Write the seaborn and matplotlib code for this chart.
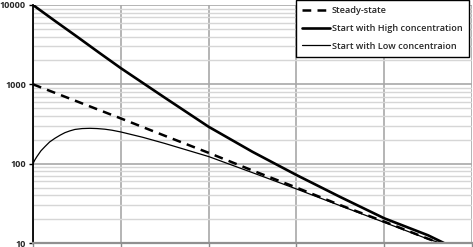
import numpy as np
import pandas as pd
import matplotlib
matplotlib.use("Agg")
import matplotlib.pyplot as plt
import seaborn as sns
from matplotlib.ticker import LogLocator, NullFormatter, FixedLocator

sns.set_style("white")
plt.rcParams["font.family"] = ["Open Sans", "DejaVu Sans"]

# values (x in grid units, y in concentration)
steady_x = [0, 0.5, 1, 1.5, 2, 2.5, 3, 3.5, 4, 4.5, 4.64]
steady_y = [1000, 610, 372, 225, 137, 82, 50, 30, 18.6, 11.3, 10]

high_x = [0, 0.25, 0.5, 0.75, 1, 1.5, 2, 2.5, 3, 3.5, 4, 4.5, 4.68]
high_y = [10000, 6300, 4000, 2520, 1600, 680, 292, 141, 72, 38, 20.5, 12.5, 10]

low_x = [0, 0.02, 0.045, 0.09, 0.136, 0.19, 0.25, 0.31, 0.364, 0.42, 0.477, 0.56, 0.648,
         0.73, 0.818, 0.9, 1, 1.25, 1.5, 2, 2.5, 3, 3.5, 4, 4.5, 4.64]
low_y = [100, 111, 123, 145, 164, 188, 209, 229, 246, 259, 270, 277, 279,
         277, 272, 264, 251, 215, 180, 123, 77, 48, 29.5, 18.2, 11.2, 10]

labels = ["Steady-state", "Start with High concentration", "Start with Low concentraion"]

df = pd.concat([
    pd.DataFrame({"x": steady_x, "y": steady_y, "series": labels[0]}),
    pd.DataFrame({"x": high_x, "y": high_y, "series": labels[1]}),
    pd.DataFrame({"x": low_x, "y": low_y, "series": labels[2]}),
])

fig = plt.figure(figsize=(4.73, 2.47), dpi=100)
ax = fig.add_axes([33 / 473, 4 / 247, 439 / 473, 238 / 247])

styles = {
    labels[0]: dict(lw=1.8, ls=(0, (3.5, 2.5))),
    labels[1]: dict(lw=1.9, ls="-"),
    labels[2]: dict(lw=0.9, ls="-"),
}
for lab in labels:
    sub = df[df["series"] == lab]
    sns.lineplot(data=sub, x="x", y="y", ax=ax, color="black", label=lab,
                 sort=False, estimator=None, **styles[lab])

ax.set_yscale("log")
ax.set_ylim(10, 10000)
ax.set_xlim(0, 5)
ax.set_xlabel("")
ax.set_ylabel("")

ax.yaxis.set_major_locator(FixedLocator([10, 100, 1000, 10000]))
ax.set_yticklabels(["10", "100", "1000", "10000"], fontsize=6.5, fontweight="bold")
ax.yaxis.set_minor_locator(LogLocator(base=10, subs=np.arange(2, 10)))
ax.yaxis.set_minor_formatter(NullFormatter())
ax.set_xticks([0, 1, 2, 3, 4, 5])
ax.set_xticklabels([])

ax.grid(which="major", axis="both", color="#a8a8a8", lw=1.2)
ax.grid(which="minor", axis="y", color="#d6d6d6", lw=1.0)
ax.set_axisbelow(True)
ax.tick_params(axis="y", which="major", length=3, width=1, color="black", pad=2, left=True)
ax.tick_params(axis="y", which="minor", length=0)
ax.tick_params(axis="x", which="major", length=3, width=1, color="#888888", bottom=True)

for s in ["top", "right"]:
    ax.spines[s].set_visible(False)
ax.spines["left"].set_color("black")
ax.spines["left"].set_linewidth(1.3)
ax.spines["bottom"].set_color("#909090")
ax.spines["bottom"].set_linewidth(1.6)

leg = ax.legend(loc="upper right", bbox_to_anchor=(0.997, 1.03), frameon=True,
                fancybox=False, edgecolor="black", framealpha=1, fontsize=6.6,
                handlelength=3.0, handletextpad=0.2, borderpad=0.7,
                borderaxespad=0.2, labelspacing=0.95)
leg.get_frame().set_linewidth(1.0)
for t in leg.get_texts():
    t.set_fontweight("semibold")

fig.savefig("out.png", dpi=100)
